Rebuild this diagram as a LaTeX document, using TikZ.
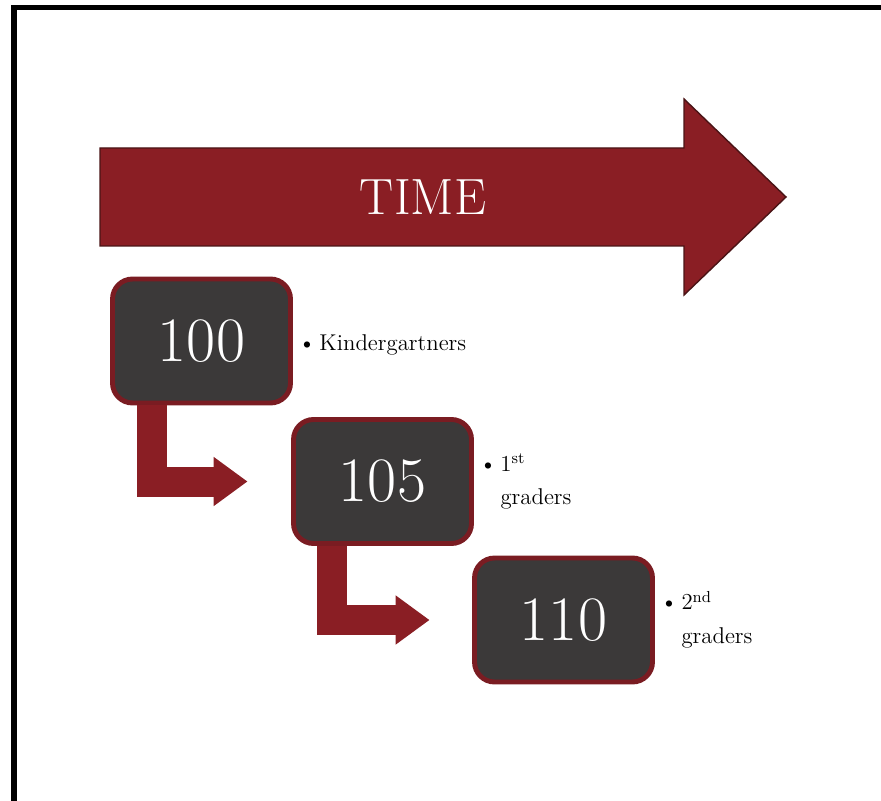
\documentclass[tikz,border=0pt]{standalone}
\usepackage{tikz}
\usetikzlibrary{arrows.meta,positioning}
\definecolor{timered}{HTML}{8A1E24}
\definecolor{boxred}{HTML}{7A1C22}
\definecolor{boxgray}{HTML}{3B3939}
\definecolor{edgered}{HTML}{4A1416}

\begin{document}
\begin{tikzpicture}[x=0.02cm,y=-0.02cm,
	box/.style={rectangle,rounded corners=0.4cm,draw=boxred,line width=2.8pt,fill=boxgray,
		minimum width=3.56cm,minimum height=2.48cm,text=white,font=\fontsize{36}{40}\selectfont},
	lbl/.style={inner sep=0pt,anchor=west,font=\fontsize{13}{19}\selectfont},
	elbow/.style={draw=timered,line width=0.6cm,-{Triangle[length=0.68cm,width=0.94cm]}}]
	\useasboundingbox (0,0) rectangle (881,800);
	\draw[line width=0.11cm] (14,820) -- (14,7.5) -- (900,7.5);
	\fill[timered,draw=edgered,line width=0.8pt] (100,148) -- (684,148) -- (684,99) -- (786,197) -- (684,295) -- (684,246) -- (100,246) -- cycle;
	\node[text=white,font=\fontsize{29}{32}\selectfont] (time) at (423,197) {TIME};
	\node[box] (b100) at (201.5,341) {100};
	\node[box] (b105) at (382.5,481.5) {105};
	\node[box] (b110) at (563.5,620) {110};
	\node[lbl,right=0.1cm of b100,yshift=-0.08cm] (k) {\textbullet\,Kindergartners};
	\node[lbl,right=0.1cm of b105] (g1) {\begin{tabular}{@{}l@{\,}l@{}}\textbullet & 1\textsuperscript{st}\\ & graders\end{tabular}};
	\node[lbl,right=0.1cm of b110] (g2) {\begin{tabular}{@{}l@{\,}l@{}}\textbullet & 2\textsuperscript{nd}\\ & graders\end{tabular}};
	\draw[elbow,shorten >=0.87cm] ([xshift=-0.99cm]b100.south) |- (b105.west);
	\draw[elbow,shorten >=0.85cm] ([xshift=-1.01cm]b105.south) |- (b110.west);
\end{tikzpicture}
\end{document}
